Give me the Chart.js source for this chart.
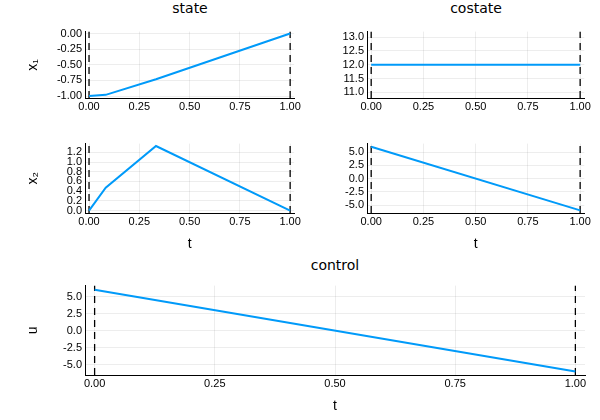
<!DOCTYPE html>
<html><head><meta charset="utf-8">
<script src="https://cdn.jsdelivr.net/npm/chart.js@4"></script>
<style>
body{margin:0;background:#fff;width:600px;height:420px;position:relative;font-family:"DejaVu Sans",sans-serif}
canvas{position:absolute}
.t{position:absolute;font-size:14px;color:#000;text-align:center}
</style></head><body>
<div class="t" style="left:85px;width:210px;top:0px">state</div>
<div class="t" style="left:367px;width:218px;top:0px">costate</div>
<div class="t" style="left:85px;width:500px;top:257px">control</div>
<canvas id="c1"></canvas><canvas id="c2"></canvas><canvas id="c3"></canvas><canvas id="c4"></canvas><canvas id="c5"></canvas>
<script>
const tState = [0, 0.083, 0.333, 1];
const x1 = [-1, -0.98, -0.73, 0];
const x2 = [0, 0.47, 1.33, 0];
const tLine = [0, 1];
const costate1 = [12, 12];
const costate2 = [6, -6];
const control = [6, -6];
const bounds = [0, 1];

const blue = "#009af9";

function pts(xs, ys) { return xs.map((x, i) => ({ x: x, y: ys[i] })); }

function panel(id, plot, xs, ys, yMin, yMax, yStep, yLabel, xLabel, xStep, yDec) {
  const cv = document.getElementById(id);
  const left = plot.l - 60, top = plot.t - 6;
  const bottom = plot.b + (xLabel ? 40 : 22);
  cv.style.left = left + "px"; cv.style.top = top + "px";
  cv.width = plot.r + 8 - left; cv.height = bottom - top;
  cv.style.width = cv.width + "px"; cv.style.height = cv.height + "px";
  const dashed = bounds.map(b => ({
    data: [{ x: b, y: yMin }, { x: b, y: yMax }],
    borderColor: "#000", borderWidth: 1.3, borderDash: [7, 5], pointRadius: 0
  }));
  new Chart(cv, {
    type: "line",
    data: {
      datasets: [{ data: pts(xs, ys), borderColor: blue, borderWidth: 2, pointRadius: 0 }].concat(dashed)
    },
    options: {
      responsive: false, animation: false,
      layout: { padding: { top: 6, right: 8 } },
      plugins: { legend: { display: false }, tooltip: { enabled: false } },
      scales: {
        x: {
          type: "linear", min: -0.02, max: 1.02,
          afterBuildTicks: s => { const t = []; for (let v = 0; v <= 1.0001; v += xStep) t.push({ value: v }); s.ticks = t; },
          ticks: { color: "#000", font: { size: 11 }, padding: 2, maxRotation: 0, autoSkip: false, callback: v => v.toFixed(2) },
          grid: { color: "rgba(0,0,0,0.07)", drawTicks: false },
          border: { color: "#000" },
          title: { display: !!xLabel, text: xLabel, color: "#000", font: { size: 14 }, padding: 0 },
          afterFit: s => { s.height = xLabel ? 40 : 22; }
        },
        y: {
          min: yMin, max: yMax,
          afterBuildTicks: s => { const t = []; const s0 = Math.ceil((yMin - 1e-9) / yStep) * yStep; for (let v = s0; v <= yMax + 1e-9; v += yStep) t.push({ value: v }); s.ticks = t; },
          ticks: { color: "#000", font: { size: 11 }, padding: 3, autoSkip: false, callback: v => v.toFixed(yDec) },
          grid: { color: "rgba(0,0,0,0.07)", drawTicks: false },
          border: { color: "#000" },
          title: { display: true, text: yLabel, color: "#000", font: { size: 14 }, padding: 0 },
          afterFit: s => { s.width = 60; }
        }
      }
    }
  });
}

panel("c1", { l: 85, r: 295, t: 28, b: 98 }, tState, x1, -1.03, 0.03, 0.25, "x₁", "", 0.25, 2);
panel("c2", { l: 367, r: 585, t: 28, b: 98 }, tLine, costate1, 10.8, 13.2, 0.5, "", "", 0.25, 1);
panel("c3", { l: 85, r: 295, t: 140, b: 213 }, tState, x2, -0.05, 1.38, 0.2, "x₂", "t", 0.25, 1);
panel("c4", { l: 367, r: 585, t: 140, b: 213 }, tLine, costate2, -6.5, 6.6, 2.5, "", "t", 0.25, 1);
panel("c5", { l: 85, r: 585, t: 282, b: 375 }, tLine, control, -6.5, 6.6, 2.5, "u", "t", 0.25, 1);
</script>
</body></html>
